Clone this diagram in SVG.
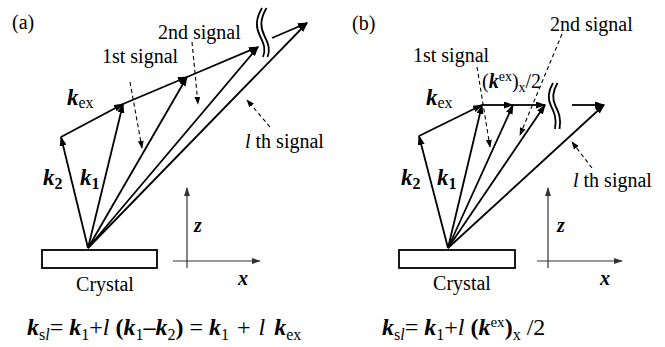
<svg xmlns="http://www.w3.org/2000/svg" width="665" height="347" viewBox="0 0 665 347">
<style>
text{font-family:"Liberation Serif","Times New Roman","DejaVu Serif","Noto Serif",serif;font-size:20px;fill:#000}
.bi{font-weight:bold;font-style:italic}
.b{font-weight:bold}
.it{font-style:italic}
.eq{font-size:24px}
.vec{stroke:#000;stroke-width:1.8;fill:none;marker-end:url(#ah)}
.brk{stroke:#000;stroke-width:1.8;fill:none}
.dash{stroke:#000;stroke-width:1.1;stroke-dasharray:4 3;fill:none;marker-end:url(#dah)}
.axis{stroke:#333;stroke-width:1.2;fill:none;marker-end:url(#axh)}
.box{fill:#fff;stroke:#000;stroke-width:1.8}
</style>
<defs>
<marker id="ah" viewBox="0 0 10 10" refX="9" refY="5" markerWidth="10" markerHeight="7" markerUnits="userSpaceOnUse" orient="auto" preserveAspectRatio="none"><path d="M0,0 L10,5 L0,10 z" fill="#000"/></marker>
<marker id="dah" viewBox="0 0 10 10" refX="9" refY="5" markerWidth="8" markerHeight="6" markerUnits="userSpaceOnUse" orient="auto" preserveAspectRatio="none"><path d="M0,0 L10,5 L0,10 z" fill="#000"/></marker>
<marker id="axh" viewBox="0 0 10 10" refX="9" refY="5" markerWidth="9" markerHeight="6" markerUnits="userSpaceOnUse" orient="auto" preserveAspectRatio="none"><path d="M0,0 L10,5 L0,10 z" fill="#333"/></marker>
</defs>

<g id="panel-a">
  <text id="label-a" x="12" y="29">(a)</text>
  <g id="connectors-a">
    <line class="vec" x1="88" y1="248" x2="61" y2="137"/>
    <line class="vec" x1="88" y1="248" x2="123" y2="104"/>
    <line class="vec" x1="88" y1="248" x2="187" y2="77"/>
    <line class="vec" x1="88" y1="248" x2="258" y2="47"/>
    <line class="vec" x1="88" y1="248" x2="307" y2="23"/>
    <line class="vec" x1="61" y1="137" x2="123" y2="104"/>
    <line class="vec" x1="123" y1="104" x2="187" y2="77"/>
    <line class="vec" x1="187" y1="77" x2="258" y2="47"/>
    <line class="vec" x1="272" y1="38" x2="307" y2="23"/>
    <path class="brk" d="M262,8 C255,20 256,28 260,36 S266,50 263,57"/>
    <path class="brk" d="M266.5,8 C259.5,20 260.5,28 264.5,36 S270.5,50 267.5,57"/>
    <line class="dash" x1="130" y1="82" x2="142" y2="148"/>
    <line class="dash" x1="192" y1="42" x2="198" y2="104"/>
    <line class="dash" x1="270" y1="127" x2="247" y2="100"/>
    <line class="axis" x1="187" y1="268" x2="187" y2="188"/>
    <line class="axis" x1="173" y1="261" x2="260" y2="261"/>
  </g>
  <g id="crystal-a">
    <rect class="box" x="42" y="250" width="115" height="18"/>
    <text x="105" y="291" text-anchor="middle">Crystal</text>
  </g>
  <g id="labels-a">
    <text x="158" y="39">2nd signal</text>
    <text x="102" y="63">1st signal</text>
    <text x="245" y="148"><tspan class="it">l</tspan> th signal</text>
    <text x="67" y="105"><tspan class="bi" font-size="23">k</tspan><tspan font-size="16" dy="3">ex</tspan></text>
    <text x="43" y="185"><tspan class="bi" font-size="23">k</tspan><tspan class="b" font-size="16" dy="4">2</tspan></text>
    <text x="80" y="185"><tspan class="bi" font-size="23">k</tspan><tspan class="b" font-size="16" dy="4">1</tspan></text>
    <text class="bi" x="194" y="232" font-size="22">z</text>
    <text class="bi" x="238" y="285" font-size="22">x</text>
  </g>
  <text id="eq-a" class="eq" x="27" y="335"><tspan class="bi">k</tspan><tspan font-size="16" dy="5">s</tspan><tspan font-size="16" class="it">l</tspan><tspan dy="-5">= </tspan><tspan class="bi">k</tspan><tspan font-size="16" dy="5">1</tspan><tspan dy="-5">+</tspan><tspan class="it">l</tspan><tspan class="b"> (</tspan><tspan class="bi">k</tspan><tspan font-size="16" dy="5">1</tspan><tspan class="b" dy="-5">–</tspan><tspan class="bi">k</tspan><tspan font-size="16" dy="5">2</tspan><tspan class="b" dy="-5">)</tspan><tspan> = </tspan><tspan class="bi">k</tspan><tspan font-size="16" dy="5">1</tspan><tspan dy="-5" dx="2"> + </tspan><tspan class="it" dx="2">l</tspan><tspan> </tspan><tspan class="bi" dx="3">k</tspan><tspan font-size="16" dy="5">ex</tspan></text>
</g>

<g id="panel-b">
  <text id="label-b" x="352" y="30">(b)</text>
  <g id="connectors-b">
    <line class="vec" x1="448" y1="248" x2="419" y2="136"/>
    <line class="vec" x1="448" y1="248" x2="482" y2="105"/>
    <line class="vec" x1="448" y1="248" x2="513" y2="105"/>
    <line class="vec" x1="448" y1="248" x2="545" y2="105"/>
    <line class="vec" x1="448" y1="248" x2="604" y2="105"/>
    <line class="vec" x1="419" y1="136" x2="482" y2="105"/>
    <line class="vec" x1="482" y1="105" x2="513" y2="105"/>
    <line class="vec" x1="513" y1="105" x2="545" y2="105"/>
    <line class="vec" x1="572" y1="105" x2="604" y2="105"/>
    <path class="brk" d="M553,83 C547,93 548,100 551,106 S557,118 555,129"/>
    <path class="brk" d="M557.5,83 C551.5,93 552.5,100 555.5,106 S561.5,118 559.5,129"/>
    <line class="dash" x1="477" y1="67" x2="490" y2="147"/>
    <line class="dash" x1="562" y1="34" x2="520" y2="135"/>
    <line class="dash" x1="592" y1="168" x2="572" y2="142"/>
    <line class="axis" x1="548" y1="268" x2="548" y2="188"/>
    <line class="axis" x1="537" y1="261" x2="622" y2="261"/>
  </g>
  <g id="crystal-b">
    <rect class="box" x="399" y="250" width="116" height="18"/>
    <text x="462" y="290" text-anchor="middle">Crystal</text>
  </g>
  <g id="labels-b">
    <text x="550" y="31">2nd signal</text>
    <text x="413" y="62">1st signal</text>
    <text x="482" y="88">(<tspan class="bi">k</tspan><tspan font-size="14" dy="-7">ex</tspan><tspan dy="7">)</tspan><tspan font-size="14" dy="4">x</tspan><tspan dy="-4">/2</tspan></text>
    <text x="573" y="187"><tspan class="it">l</tspan> th signal</text>
    <text x="426" y="105"><tspan class="bi" font-size="23">k</tspan><tspan font-size="16" dy="3">ex</tspan></text>
    <text x="401" y="185"><tspan class="bi" font-size="23">k</tspan><tspan class="b" font-size="16" dy="4">2</tspan></text>
    <text x="437" y="185"><tspan class="bi" font-size="23">k</tspan><tspan class="b" font-size="16" dy="4">1</tspan></text>
    <text class="bi" x="557" y="232" font-size="22">z</text>
    <text class="bi" x="600" y="285" font-size="22">x</text>
  </g>
  <text id="eq-b" class="eq" x="382" y="335"><tspan class="bi">k</tspan><tspan font-size="16" dy="5">s</tspan><tspan font-size="16" class="it">l</tspan><tspan dy="-5">= </tspan><tspan class="bi">k</tspan><tspan font-size="16" dy="5">1</tspan><tspan dy="-5">+</tspan><tspan class="it">l</tspan><tspan class="b"> (</tspan><tspan class="bi">k</tspan><tspan font-size="15" dy="-8">ex</tspan><tspan class="b" dy="8">)</tspan><tspan font-size="16" dy="5">x</tspan><tspan dy="-5"> /2</tspan></text>
</g>
</svg>
